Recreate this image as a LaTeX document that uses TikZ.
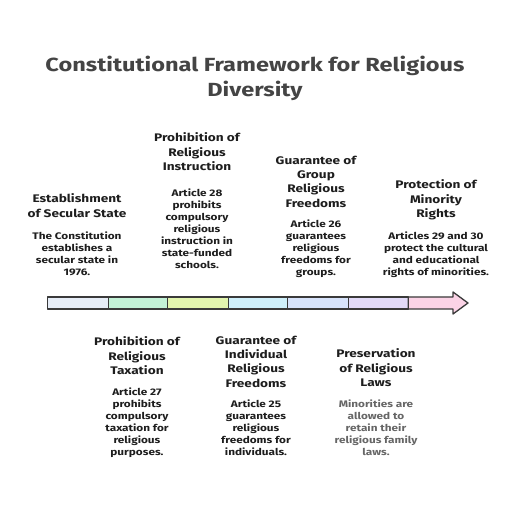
\documentclass[tikz,border=0pt]{standalone}
\usepackage{fontspec}
\setmainfont[FakeStretch=1.24]{Fira Sans}
\definecolor{ttl}{HTML}{444444}
\definecolor{ink}{HTML}{1E1E1E}
\definecolor{soft}{HTML}{666666}
\definecolor{edge}{HTML}{3A3A3A}
\definecolor{sA}{HTML}{E6EDF7}
\definecolor{sB}{HTML}{C3F2D7}
\definecolor{sC}{HTML}{E2F5AE}
\definecolor{sD}{HTML}{CFF0FB}
\definecolor{sE}{HTML}{D7E3FB}
\definecolor{sF}{HTML}{E2DAF8}
\definecolor{sG}{HTML}{FBD3E6}
\tikzset{
  head/.style={anchor=north,inner sep=0pt,align=center,text=ink,font=\fontsize{11}{14.3}\selectfont\bfseries},
  body/.style={anchor=north,inner sep=0pt,align=center,text=ink,font=\fontsize{9.5}{12}\selectfont\bfseries},
  seg/.style={draw=edge,line width=1.3pt,line join=round}
}
\begin{document}
\begin{tikzpicture}[x=1pt,y=-1pt]
\useasboundingbox (0,0) rectangle (522,510);
\fill[white] (0,0) rectangle (522,510);
% title
\node[anchor=north,inner sep=0pt,align=center,text=ttl,font=\fontsize{19}{25}\selectfont\bfseries] (title) at (255,55.4) {Constitutional Framework for Religious\\Diversity};
% bar
\draw[seg,fill=sA] (47.3,297) rectangle (108.3,309);
\draw[seg,fill=sB] (108.3,297) rectangle (167.7,309);
\draw[seg,fill=sC] (167.7,297) rectangle (228.3,309);
\draw[seg,fill=sD] (228.3,297) rectangle (287.7,309);
\draw[seg,fill=sE] (287.7,297) rectangle (348.3,309);
\draw[seg,fill=sF] (348.3,297) rectangle (408.3,309);
\draw[seg,fill=sG] (408.3,297) -- (453,297) -- (453,292) -- (468,303) -- (453,314) -- (453,309) -- (408.3,309) -- cycle;
% above
\node[head] (h1) at (77,193.6) {Establishment\\of Secular State};
\node[body] (d1) at (77,231.2) {The Constitution\\establishes a\\secular state in\\1976.};
\node[head] (h2) at (197,132.6) {Prohibition of\\Religious\\Instruction};
\node[body] (d2) at (197,188.2) {Article 28\\prohibits\\compulsory\\religious\\instruction in\\state-funded\\schools.};
\node[head] (h3) at (316,155.6) {Guarantee of\\Group\\Religious\\Freedoms};
\node[body] (d3) at (316,219.2) {Article 26\\guarantees\\religious\\freedoms for\\groups.};
\node[head] (h4) at (436,179.6) {Protection of\\Minority\\Rights};
\node[body] (d4) at (436,231.2) {Articles 29 and 30\\protect the cultural\\and educational\\rights of minorities.};
% below
\node[head] (h5) at (137,336.6) {Prohibition of\\Religious\\Taxation};
\node[body] (d5) at (137,387.2) {Article 27\\prohibits\\compulsory\\taxation for\\religious\\purposes.};
\node[head] (h6) at (256,335.6) {Guarantee of\\Individual\\Religious\\Freedoms};
\node[body] (d6) at (256,399.2) {Article 25\\guarantees\\religious\\freedoms for\\individuals.};
\node[head] (h7) at (376,348.6) {Preservation\\of Religious\\Laws};
\node[body,text=soft] (d7) at (376,399.2) {Minorities are\\allowed to\\retain their\\religious family\\laws.};
\end{tikzpicture}
\end{document}
